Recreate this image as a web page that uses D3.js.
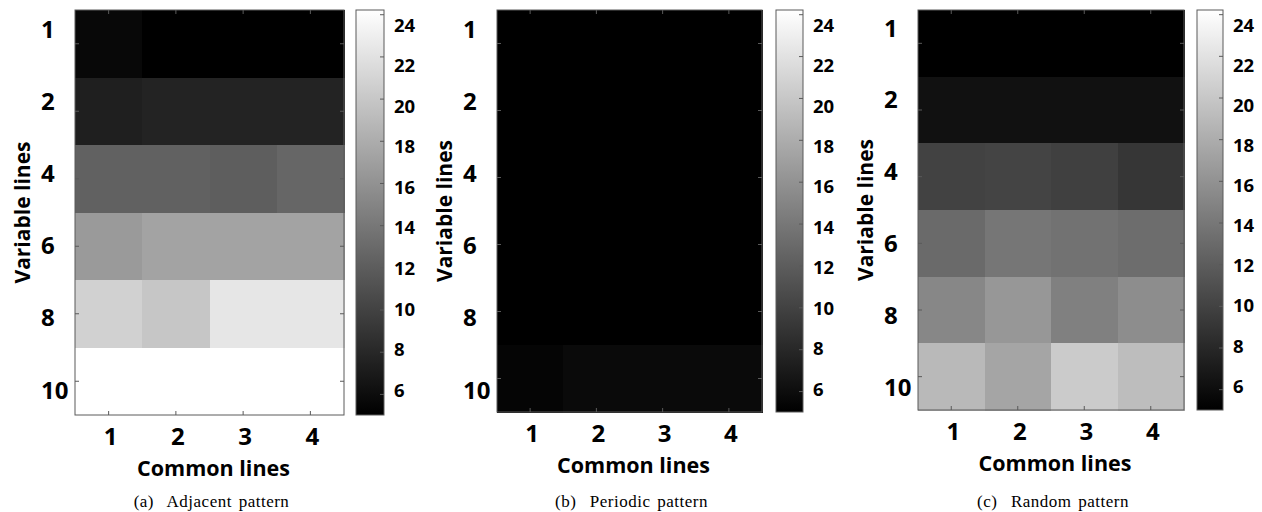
<!DOCTYPE html>
<html>
<head>
<meta charset="utf-8">
<script src="https://cdn.jsdelivr.net/npm/d3@7"></script>
<style>
  html, body { margin: 0; padding: 0; background: #fff; }
  svg { display: block; }
  .lbl { font-family: "Open Sans", Lato, sans-serif; font-weight: 700; fill: #000; }
  .cap { font-family: "Liberation Serif", "DejaVu Serif", serif; fill: #000; white-space: pre; }
</style>
</head>
<body>
<svg id="chart" width="1262" height="512"></svg>
<script>
// Row / column categories
const variableLines = ["1", "2", "4", "6", "8", "10"];
const commonLines = ["1", "2", "3", "4"];

// Values per row (variable lines) and column (common lines)
const adjacentValues = [
  [5.6, 5.0, 5.0, 5.0],
  [7.3, 7.6, 7.6, 7.6],
  [12.3, 12.3, 12.1, 12.7],
  [16.6, 17.3, 17.3, 17.3],
  [20.7, 19.9, 22.3, 22.3],
  [24.2, 24.2, 24.2, 24.2]
];
const periodicValues = [
  [5.0, 5.0, 5.0, 5.0],
  [5.0, 5.0, 5.0, 5.0],
  [5.0, 5.0, 5.0, 5.0],
  [5.0, 5.0, 5.0, 5.0],
  [5.0, 5.0, 5.0, 5.0],
  [5.4, 5.75, 5.75, 5.75]
];
const randomValues = [
  [5.0, 5.0, 5.0, 5.0],
  [6.3, 6.3, 6.3, 6.3],
  [10.0, 10.1, 9.8, 9.1],
  [13.0, 13.9, 13.6, 13.2],
  [15.2, 16.4, 14.6, 15.6],
  [18.9, 17.4, 20.3, 19.2]
];

// Colour bar range and tick values
const colorDomain = [5.0, 24.2];
const colorbarTicks = [6, 8, 10, 12, 14, 16, 18, 20, 22, 24];

const captions = ["(a)  Adjacent pattern", "(b)  Periodic pattern", "(c)  Random pattern"];
const datasets = [adjacentValues, periodicValues, randomValues];

// Panel geometry
const layout = [
  { x0: 75,  x1: 344,  y0: 10, y1: 415, cb0: 356,  cb1: 384,  rowLab: [29, 390], cbLab: [390, 25] },
  { x0: 497, x1: 762,  y0: 10, y1: 412, cb0: 776,  cb1: 803,  rowLab: [29, 390], cbLab: [389, 25] },
  { x0: 918, x1: 1184, y0: 10, y1: 410, cb0: 1197, cb1: 1223, rowLab: [28, 387], cbLab: [386, 25] }
];

const svg = d3.select("#chart");
const color = d3.scaleLinear().domain(colorDomain).range(["#000000", "#ffffff"]);

// vertical gradient for the colour bars
const defs = svg.append("defs");
const grad = defs.append("linearGradient")
  .attr("id", "grayGrad").attr("x1", 0).attr("y1", 1).attr("x2", 0).attr("y2", 0);
grad.append("stop").attr("offset", "0%").attr("stop-color", color(colorDomain[0]));
grad.append("stop").attr("offset", "100%").attr("stop-color", color(colorDomain[1]));

const frameColor = "#5a5a5a";

datasets.forEach((values, i) => {
  const L = layout[i];
  const g = svg.append("g");

  const x = d3.scaleBand().domain(commonLines).range([L.x0, L.x1]);
  const y = d3.scaleBand().domain(variableLines).range([L.y0, L.y1]);

  // heatmap cells
  const cells = [];
  values.forEach((row, r) => row.forEach((v, c) => cells.push({ r: variableLines[r], c: commonLines[c], v })));
  g.selectAll("rect.cell").data(cells).join("rect")
    .attr("class", "cell")
    .attr("x", d => x(d.c))
    .attr("y", d => y(d.r))
    .attr("width", x.bandwidth() + 1)
    .attr("height", y.bandwidth() + 1)
    .attr("shape-rendering", "crispEdges")
    .attr("fill", d => color(d.v));

  // inward tick marks on all four sides
  const tickLen = 4;
  const tickStyle = sel => sel.call(s => s.select(".domain").remove())
    .selectAll(".tick line").attr("stroke", frameColor);
  g.append("g").attr("transform", `translate(0,${L.y1})`)
    .call(d3.axisBottom(x).tickSize(-tickLen).tickFormat("")).call(tickStyle);
  g.append("g").attr("transform", `translate(0,${L.y0})`)
    .call(d3.axisTop(x).tickSize(-tickLen).tickFormat("")).call(tickStyle);
  g.append("g").attr("transform", `translate(${L.x0},0)`)
    .call(d3.axisLeft(y).tickSize(-tickLen).tickFormat("")).call(tickStyle);
  g.append("g").attr("transform", `translate(${L.x1},0)`)
    .call(d3.axisRight(y).tickSize(-tickLen).tickFormat("")).call(tickStyle);

  // frame
  g.append("rect")
    .attr("x", L.x0).attr("y", L.y0)
    .attr("width", L.x1 - L.x0).attr("height", L.y1 - L.y0)
    .attr("fill", "none").attr("stroke", frameColor).attr("stroke-width", 1);

  // row labels (left-aligned in a column beside the map)
  const rowLab = d3.scalePoint().domain(variableLines).range(L.rowLab);
  g.selectAll("text.row").data(variableLines).join("text")
    .attr("class", "lbl row")
    .attr("x", L.x0 - 34)
    .attr("y", d => rowLab(d))
    .attr("dy", "0.36em")
    .attr("text-anchor", "start")
    .style("font-size", "24px")
    .text(d => d);

  // column labels
  g.selectAll("text.col").data(commonLines).join("text")
    .attr("class", "lbl col")
    .attr("x", d => x(d) + x.bandwidth() / 2 + 2)
    .attr("y", L.y1 + 21)
    .attr("dy", "0.36em")
    .attr("text-anchor", "middle")
    .style("font-size", "24px")
    .text(d => d);

  // axis titles
  const cx = (L.x0 + L.x1) / 2 + 4;
  g.append("text").attr("class", "lbl")
    .attr("x", cx).attr("y", L.y1 + 53)
    .attr("dy", "0.36em")
    .attr("text-anchor", "middle")
    .style("font-size", "21.5px")
    .text("Common lines");
  g.append("text").attr("class", "lbl")
    .attr("transform", `translate(${L.x0 - 53},${(L.y0 + L.y1) / 2})rotate(-90)`)
    .attr("dy", "0.36em")
    .attr("text-anchor", "middle")
    .style("font-size", "21px")
    .text("Variable lines");

  // colour bar
  const cb = d3.scaleLinear().domain(colorDomain).range([L.y1, L.y0]);
  g.append("rect")
    .attr("x", L.cb0).attr("y", L.y0)
    .attr("width", L.cb1 - L.cb0).attr("height", L.y1 - L.y0)
    .attr("fill", "url(#grayGrad)");
  g.append("g").attr("transform", `translate(${L.cb1},0)`)
    .call(d3.axisRight(cb).tickValues(colorbarTicks).tickSize(-tickLen).tickFormat("")).call(tickStyle);
  g.append("rect")
    .attr("x", L.cb0).attr("y", L.y0)
    .attr("width", L.cb1 - L.cb0).attr("height", L.y1 - L.y0)
    .attr("fill", "none").attr("stroke", frameColor).attr("stroke-width", 1);

  const cbLab = d3.scaleLinear().domain([colorbarTicks[0], colorbarTicks[colorbarTicks.length - 1]]).range(L.cbLab);
  g.selectAll("text.cbt").data(colorbarTicks).join("text")
    .attr("class", "lbl cbt")
    .attr("x", L.cb1 + 10)
    .attr("y", d => cbLab(d))
    .attr("dy", "0.36em")
    .style("font-size", "18.5px")
    .text(d => d);

  // caption
  g.append("text").attr("class", "cap")
    .attr("x", cx - 2).attr("y", 502)
    .attr("dy", "0.32em")
    .attr("text-anchor", "middle")
    .style("font-size", "17px")
    .style("letter-spacing", "0.5px")
    .style("word-spacing", "2px")
    .text(captions[i]);
});
</script>
</body>
</html>
